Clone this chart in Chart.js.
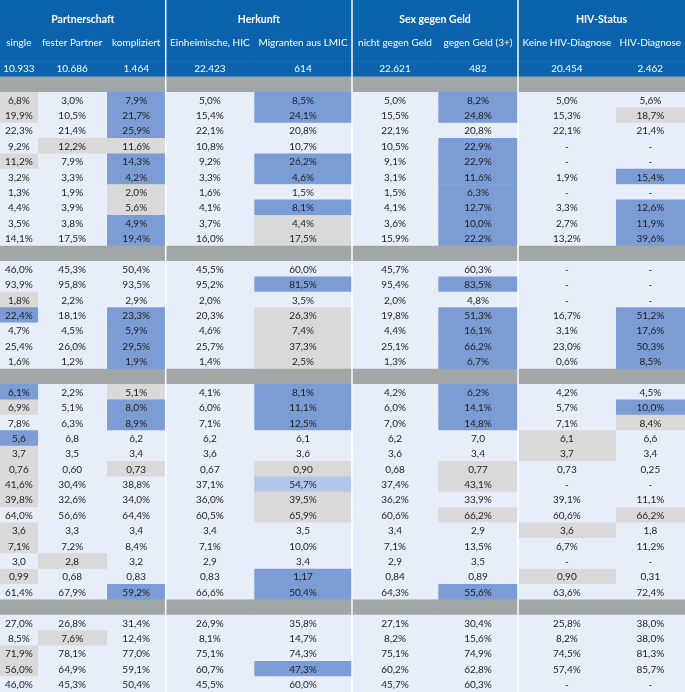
<!DOCTYPE html>
<html>
<head>
<meta charset="utf-8">
<script src="https://cdn.jsdelivr.net/npm/chart.js@4"></script>
<style>
  body { margin: 0; background: #fff; }
  #wrap { width: 685px; height: 692px; }
</style>
</head>
<body>
<div id="wrap"><canvas id="table"></canvas></div>
<script>
// --- DATA ---
const GROUPS = ['Partnerschaft', 'Herkunft', 'Sex gegen Geld', 'HIV-Status'];
const GROUP_SIZES = [3, 2, 2, 2];
const COLUMNS = ['single', 'fester Partner', 'kompliziert', 'Einheimische, HIC', 'Migranten aus LMIC',
                 'nicht gegen Geld', 'gegen Geld (3+)', 'Keine HIV-Diagnose', 'HIV-Diagnose'];
const COUNTS = ['10.933', '10.686', '1.464', '22.423', '614', '22.621', '482', '20.454', '2.462'];

// marks: . = none, b = blue, g = grey, l = light blue
const SECTION1 = [
    ['6,8%', '3,0%', '7,9%', '5,0%', '8,5%', '5,0%', '8,2%', '5,0%', '5,6%'],
    ['19,9%', '10,5%', '21,7%', '15,4%', '24,1%', '15,5%', '24,8%', '15,3%', '18,7%'],
    ['22,3%', '21,4%', '25,9%', '22,1%', '20,8%', '22,1%', '20,8%', '22,1%', '21,4%'],
    ['9,2%', '12,2%', '11,6%', '10,8%', '10,7%', '10,5%', '22,9%', '-', '-'],
    ['11,2%', '7,9%', '14,3%', '9,2%', '26,2%', '9,1%', '22,9%', '-', '-'],
    ['3,2%', '3,3%', '4,2%', '3,3%', '4,6%', '3,1%', '11,6%', '1,9%', '15,4%'],
    ['1,3%', '1,9%', '2,0%', '1,6%', '1,5%', '1,5%', '6,3%', '-', '-'],
    ['4,4%', '3,9%', '5,6%', '4,1%', '8,1%', '4,1%', '12,7%', '3,3%', '12,6%'],
    ['3,5%', '3,8%', '4,9%', '3,7%', '4,4%', '3,6%', '10,0%', '2,7%', '11,9%'],
    ['14,1%', '17,5%', '19,4%', '16,0%', '17,5%', '15,9%', '22,2%', '13,2%', '39,6%']
];
const MARKS1 = ['g.b.b.b..', 'g.b.b.b.g', '..b......', '.gg...b..', 'g.b.b.b..',
                '..b.b.b.b', '..g...b..', '..g.b.b.b', '..b.g.b.b', '..b.g.b.b'];

const SECTION2 = [
    ['46,0%', '45,3%', '50,4%', '45,5%', '60,0%', '45,7%', '60,3%', '-', '-'],
    ['93,9%', '95,8%', '93,5%', '95,2%', '81,5%', '95,4%', '83,5%', '-', '-'],
    ['1,8%', '2,2%', '2,9%', '2,0%', '3,5%', '2,0%', '4,8%', '-', '-'],
    ['22,4%', '18,1%', '23,3%', '20,3%', '26,3%', '19,8%', '51,3%', '16,7%', '51,2%'],
    ['4,7%', '4,5%', '5,9%', '4,6%', '7,4%', '4,4%', '16,1%', '3,1%', '17,6%'],
    ['25,4%', '26,0%', '29,5%', '25,7%', '37,3%', '25,1%', '66,2%', '23,0%', '50,3%'],
    ['1,6%', '1,2%', '1,9%', '1,4%', '2,5%', '1,3%', '6,7%', '0,6%', '8,5%']
];
const MARKS2 = ['.........', '....b.b..', 'g........', 'b.b.g.b.b',
                '..b.g.b.b', '..b.g.b.b', '..b.g.b.b'];

const SECTION3 = [
    ['6,1%', '2,2%', '5,1%', '4,1%', '8,1%', '4,2%', '6,2%', '4,2%', '4,5%'],
    ['6,9%', '5,1%', '8,0%', '6,0%', '11,1%', '6,0%', '14,1%', '5,7%', '10,0%'],
    ['7,8%', '6,3%', '8,9%', '7,1%', '12,5%', '7,0%', '14,8%', '7,1%', '8,4%'],
    ['5,6', '6,8', '6,2', '6,2', '6,1', '6,2', '7,0', '6,1', '6,6'],
    ['3,7', '3,5', '3,4', '3,6', '3,6', '3,6', '3,4', '3,7', '3,4'],
    ['0,76', '0,60', '0,73', '0,67', '0,90', '0,68', '0,77', '0,73', '0,25'],
    ['41,6%', '30,4%', '38,8%', '37,1%', '54,7%', '37,4%', '43,1%', '-', '-'],
    ['39,8%', '32,6%', '34,0%', '36,0%', '39,5%', '36,2%', '33,9%', '39,1%', '11,1%'],
    ['64,0%', '56,6%', '64,4%', '60,5%', '65,9%', '60,6%', '66,2%', '60,6%', '66,2%'],
    ['3,6', '3,3', '3,4', '3,4', '3,5', '3,4', '2,9', '3,6', '1,8'],
    ['7,1%', '7,2%', '8,4%', '7,1%', '10,0%', '7,1%', '13,5%', '6,7%', '11,2%'],
    ['3,0', '2,8', '3,2', '2,9', '3,4', '2,9', '3,5', '-', '-'],
    ['0,99', '0,68', '0,83', '0,83', '1,17', '0,84', '0,89', '0,90', '0,31'],
    ['61,4%', '67,9%', '59,2%', '66,6%', '50,4%', '64,3%', '55,6%', '63,6%', '72,4%']
];
const MARKS3 = ['b.g.b.b..', 'g.b.b.b.b', '..b.b.b.g', 'b......g.', 'g......g.',
                'g.g.g.g..', 'g...l.g..', 'g...g....', '....g.g.g', 'g......g.',
                'g........', '.g.......', 'g...b..g.', '..b.b.b..'];

const SECTION4 = [
    ['27,0%', '26,8%', '31,4%', '26,9%', '35,8%', '27,1%', '30,4%', '25,8%', '38,0%'],
    ['8,5%', '7,6%', '12,4%', '8,1%', '14,7%', '8,2%', '15,6%', '8,2%', '38,0%'],
    ['71,9%', '78,1%', '77,0%', '75,1%', '74,3%', '75,1%', '74,9%', '74,5%', '81,3%'],
    ['56,0%', '64,9%', '59,1%', '60,7%', '47,3%', '60,2%', '62,8%', '57,4%', '85,7%'],
    ['46,0%', '45,3%', '50,4%', '45,5%', '60,0%', '45,7%', '60,3%', '-', '-']
];
const MARKS4 = ['.........', '.g.......', 'g........', 'g...b....', '.........'];

// --- LAYOUT / STYLE ---
const COL_EDGES = [0, 37.7, 106.7, 165.7, 254, 352, 438, 518, 615.7, 685];
const HEAD_ROWS = 5;
const COLORS = {
    head: '#0b63ad', sep: '#a1a6a6', '.': '#e7eefa',
    b: '#7b9cd5', g: '#d9d9d9', l: '#b2c6eb'
};
const FONT = 'Lato, "Open Sans", sans-serif';

// build row list: header block, then a grey separator before each section
const rows = [];
for (let i = 0; i < HEAD_ROWS; i++) rows.push({ type: 'head' });
[[SECTION1, MARKS1], [SECTION2, MARKS2], [SECTION3, MARKS3], [SECTION4, MARKS4]].forEach(([vals, marks]) => {
    rows.push({ type: 'sep' });
    vals.forEach((v, i) => rows.push({ type: 'data', values: v, marks: marks[i] }));
});

function cellColor(row, c) {
    if (row.type === 'head') return COLORS.head;
    if (row.type === 'sep') return COLORS.sep;
    return COLORS[row.marks[c]];
}

const datasets = COLUMNS.map((name, c) => ({
    label: name,
    data: rows.map(() => [COL_EDGES[c], COL_EDGES[c + 1]]),
    backgroundColor: rows.map(r => cellColor(r, c)),
    borderWidth: 0,
    grouped: false,
    barPercentage: 1,
    categoryPercentage: 1
}));

// group boundaries (column index where each group starts)
const groupStarts = [];
GROUP_SIZES.reduce((acc, n) => { groupStarts.push(acc); return acc + n; }, 0);

const tableText = {
    id: 'tableText',
    afterDatasetsDraw(chart) {
        const { ctx, scales: { x, y } } = chart;
        const colX = c => (x.getPixelForValue(COL_EDGES[c]) + x.getPixelForValue(COL_EDGES[c + 1])) / 2;
        ctx.save();

        // white dividers between groups
        ctx.strokeStyle = '#ffffff';
        ctx.lineWidth = 1.5;
        groupStarts.slice(1).forEach(c => {
            const px = x.getPixelForValue(COL_EDGES[c]);
            ctx.beginPath();
            ctx.moveTo(px, y.top);
            ctx.lineTo(px, y.bottom);
            ctx.stroke();
        });

        ctx.textAlign = 'center';
        ctx.textBaseline = 'middle';

        // header
        ctx.fillStyle = '#ffffff';
        ctx.font = 'bold 10.5px ' + FONT;
        GROUPS.forEach((g, i) => {
            const a = x.getPixelForValue(COL_EDGES[groupStarts[i]]);
            const b = x.getPixelForValue(COL_EDGES[groupStarts[i] + GROUP_SIZES[i]]);
            ctx.fillText(g, (a + b) / 2, y.getPixelForValue(0.8));
        });
        ctx.font = '10px ' + FONT;
        COLUMNS.forEach((name, c) => ctx.fillText(name, colX(c), y.getPixelForValue(2.28)));
        COUNTS.forEach((n, c) => ctx.fillText(n, colX(c), y.getPixelForValue(3.97)));

        // cells
        ctx.fillStyle = '#1e1e1e';
        rows.forEach((r, i) => {
            if (r.type !== 'data') return;
            const py = y.getPixelForValue(i) + 0.5;
            r.values.forEach((v, c) => ctx.fillText(v, colX(c), py));
        });
        ctx.restore();
    }
};

window.onload = () => {
    new Chart(document.getElementById('table').getContext('2d'), {
        type: 'bar',
        data: { labels: rows.map((r, i) => 'r' + i), datasets },
        options: {
            indexAxis: 'y',
            responsive: true,
            maintainAspectRatio: false,
            animation: false,
            layout: { padding: 0 },
            plugins: { legend: { display: false }, tooltip: { enabled: false } },
            scales: {
                x: { type: 'linear', min: 0, max: 685, display: false },
                y: { display: false }
            }
        },
        plugins: [tableText]
    });
};
</script>
</body>
</html>
